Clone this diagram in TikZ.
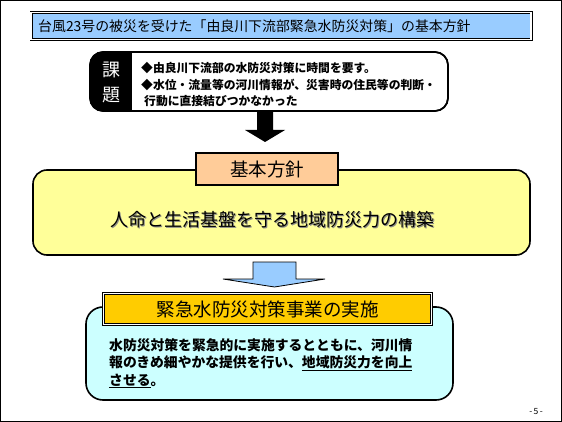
\documentclass[tikz,border=0pt]{standalone}
\usepackage{fontspec}
\newfontfamily\jp{Noto Sans CJK JP}
\definecolor{titleblue}{HTML}{99CCFF}
\definecolor{kihonorange}{HTML}{FFCC99}
\definecolor{mainyellow}{HTML}{FFFF99}
\definecolor{jisshigold}{HTML}{FFCC00}
\definecolor{jisshicyan}{HTML}{CCFFFF}
\begin{document}
\begin{tikzpicture}[x=1pt, y=-1pt, font=\jp,
    panel/.style={draw=black, line width=1.6pt, rounded corners=14pt, inner sep=0pt},
    tag/.style={draw=black, line width=1.2pt, inner sep=0pt},
    doubletag/.style={draw=black, line width=0.8pt, double=white, double distance=1.4pt, inner sep=0pt}]
  \useasboundingbox (0,0) rectangle (562,422);

  % Slide frame
  \draw[line width=1pt] (0.5,0.5) rectangle (561.5,421.5);

  % Title
  \node[doubletag, fill=titleblue, minimum width=500pt, minimum height=27pt] (title) at (281,26) {};
  \node[anchor=west, inner sep=0pt, font=\jp\fontsize{13.9pt}{16pt}\selectfont] (titletext) at (38,26)
    {台風23号の被災を受けた「由良川下流部緊急水防災対策」の基本方針};

  % Problems (kadai)
  \node[panel, rounded corners=13pt, fill=white, minimum width=358pt, minimum height=59pt] (kadai) at (269,81.5) {};
  \begin{scope}
    \clip[rounded corners=13pt] (90,52) rectangle (448,111);
    \fill[black] (90,52) rectangle (132,111);
  \end{scope}
  \draw[line width=1.6pt, rounded corners=13pt] (90,52) rectangle (448,111);
  \foreach \ch/\y in {課/70, 題/95} {
    \node[text=white, inner sep=0pt, font=\jp\fontsize{18pt}{18pt}\selectfont] (kadai-\y) at (111,\y) {\ch};
  }
  \node[anchor=north west, inner sep=0pt, align=left, font=\jp\bfseries\fontsize{11.8pt}{16.7pt}\selectfont] (kadaitext) at (141,62)
    {◆由良川下流部の水防災対策に時間を要す。\\◆水位・流量等の河川情報が、災害時の住民等の判断・\\\hspace{3pt}行動に直接結びつかなかった};

  % Arrow down to basic policy
  \fill[black] (257,112) -- (273,112) -- (273,130) -- (285,130) -- (265,142) -- (245,130) -- (257,130) -- cycle;

  % Basic policy
  \node[panel, fill=mainyellow, minimum width=497pt, minimum height=85pt] (seisaku) at (281.5,212.5) {};
  \node[tag, fill=kihonorange, minimum width=142pt, minimum height=32pt, font=\jp\fontsize{18.5pt}{18.5pt}\selectfont] (kihon) at (267,169) {基本方針};
  \node[text=black!45, inner sep=0pt, font=\jp\fontsize{18pt}{18pt}\selectfont] (seisakushadow) at (273,221) {人命と生活基盤を守る地域防災力の構築};
  \node[inner sep=0pt, font=\jp\fontsize{18pt}{18pt}\selectfont] (seisakutext) at (272,220) {人命と生活基盤を守る地域防災力の構築};

  % Arrow down to implementation
  \filldraw[fill=titleblue, draw=black, line width=0.8pt] (253,262) -- (296,262) -- (296,279) -- (325,279) -- (274.5,287) -- (223,279) -- (253,279) -- cycle;

  % Implementation
  \node[panel, rounded corners=17pt, fill=jisshicyan, minimum width=367pt, minimum height=93pt] (jisshi) at (269.5,353.5) {};
  \node[doubletag, fill=jisshigold, minimum width=328pt, minimum height=31pt, font=\jp\fontsize{18.5pt}{18.5pt}\selectfont] (jigyo) at (267.5,309) {緊急水防災対策事業の実施};
  \node[anchor=north west, inner sep=0pt, align=left, font=\jp\bfseries\fontsize{13.8pt}{17.5pt}\selectfont] (jisshitext) at (109,338)
    {水防災対策を緊急的に実施するとともに、河川情\\報のきめ細やかな提供を行い、\underline{地域防災力を向上}\\\underline{させる}。};

  % Page number
  \node[inner sep=0pt, font=\jp\fontsize{8.5pt}{8.5pt}\selectfont] (pageno) at (536,412) {-\,5\,-};
\end{tikzpicture}
\end{document}
